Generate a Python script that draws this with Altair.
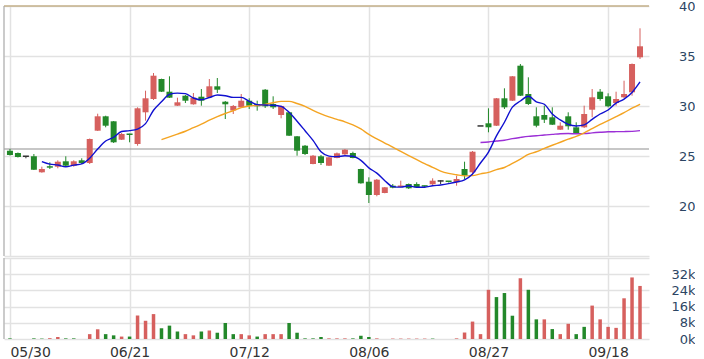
import altair as alt
import pandas as pd

# ---------------- data ----------------
opens = [25.53, 25.3, 24.9, 24.97, 23.37, 23.9, 23.93, 24.47, 24.03, 24.57,
         24.3, 27.53, 28.97, 28.47, 26.63, 27.2, 26.2, 29.37, 30.7, 32.7,
         31.43, 30.03, 31.03, 30.17, 30.93, 30.87, 31.97, 30.43, 29.55, 29.87,
         30.53, 30.2, 31.63, 30.2, 29.1, 29.37, 26.97, 26.03, 24.2, 24.97,
         24.03, 24.8, 25.17, 25.3, 23.7, 22.43, 21.1, 21.3, 22.03, 21.9,
         22.2, 22.2, 22.0, 22.17, 22.43, 22.45, 22.37, 23.7, 23.37, 27.93,
         28.27, 28.03, 30.77, 30.53, 34.03, 31.2, 28.97, 29.1, 28.87, 27.63,
         28.97, 27.87, 27.87, 29.63, 31.43, 30.97, 30.3, 30.87, 31.37, 34.87]
highs = [25.7, 25.35, 24.93, 25.2, 23.93, 24.37, 24.57, 24.97, 24.57, 24.77,
         26.75, 29.23, 29.03, 28.5, 27.3, 27.23, 29.87, 31.53, 33.3, 32.73,
         32.97, 30.83, 31.1, 31.3, 31.7, 32.7, 32.8, 30.5, 30.1, 31.2,
         30.77, 30.53, 31.7, 30.97, 30.05, 29.4, 27.0, 26.1, 25.1, 25.1,
         24.9, 25.35, 25.7, 25.43, 23.73, 22.87, 22.7, 21.9, 22.2, 22.53,
         22.25, 22.37, 22.03, 22.77, 22.57, 22.5, 23.03, 24.43, 25.5, 27.93,
         29.77, 30.8, 31.77, 33.0, 34.2, 32.87, 29.87, 30.03, 29.87, 28.37,
         29.37, 28.37, 30.03, 31.7, 31.7, 31.27, 31.43, 32.53, 34.25, 37.77]
lows = [25.05, 24.85, 24.77, 23.6, 23.33, 23.7, 23.77, 23.93, 23.93, 24.2,
        24.2, 27.5, 27.87, 26.3, 26.6, 26.37, 26.03, 28.53, 30.6, 31.4,
        30.8, 30.0, 30.3, 30.13, 30.03, 30.8, 31.3, 28.7, 29.2, 29.8,
        29.7, 29.53, 29.8, 29.7, 28.77, 27.0, 25.03, 25.1, 24.17, 24.1,
        24.0, 24.77, 25.1, 24.77, 22.23, 20.3, 20.97, 21.27, 21.77, 21.87,
        21.7, 21.8, 21.9, 22.1, 22.2, 22.35, 22.03, 22.7, 23.0, 27.93,
        27.37, 28.0, 29.7, 30.5, 31.0, 30.1, 27.87, 28.3, 28.1, 27.6,
        27.63, 27.25, 27.8, 28.87, 30.53, 29.87, 30.03, 30.8, 31.03, 34.7]
closes = [25.1, 24.9, 24.9, 23.63, 23.7, 23.83, 24.43, 24.03, 24.47, 24.3,
          26.7, 28.97, 28.03, 26.37, 27.2, 27.1, 29.77, 30.77, 33.03, 31.43,
          30.83, 30.37, 30.53, 30.83, 30.53, 31.97, 31.63, 30.17, 30.0, 30.53,
          30.03, 29.97, 29.97, 29.87, 30.0, 27.03, 25.53, 25.2, 25.03, 24.3,
          24.87, 25.27, 25.63, 24.8, 22.27, 21.1, 22.63, 21.87, 21.83, 22.0,
          21.77, 21.87, 21.93, 22.53, 22.43, 22.4, 22.7, 23.03, 25.43, 27.93,
          27.87, 30.77, 29.87, 32.97, 31.03, 30.2, 28.03, 28.63, 28.13, 28.03,
          27.97, 27.27, 29.2, 30.87, 30.7, 29.97, 30.7, 31.2, 34.2, 35.97]
volume_k = [0.3, 0, 0, 0.3, 0.2, 0.4, 1.0, 0.3, 0.3, 0,
            2.4, 4.8, 2.4, 1.8, 1.2, 1.2, 11.6, 9.0, 12.3, 5.3,
            6.6, 3.7, 2.4, 1.8, 3.7, 4.2, 3.1, 7.9, 2.4, 2.4,
            1.8, 1.2, 2.4, 2.4, 2.4, 7.9, 3.1, 0.3, 0.3, 1.0,
            0.3, 0.3, 0.3, 0.3, 1.6, 1.0, 0.3, 0, 0.2, 0.2,
            0.2, 0.2, 0.2, 0.2, 0, 0, 0.3, 3.2, 8.6, 2.4,
            24.3, 20.7, 22.7, 11.5, 30.0, 24.3, 9.7, 9.7, 4.9, 2.4,
            7.5, 2.4, 6.0, 16.5, 9.7, 6.0, 5.5, 20.1, 30.4, 26.2]
volume_dir = list("ddddduudddu" "uddudu" "uudd" "duudud" "dduudu" "uudddd" "duuudd"
                  "duuuuuuuddu" "uuuuudddudd" "uduudduuuu")
tick_index = [0, 15, 30, 45, 60, 75]
tick_labels = ["05/30", "06/21", "07/12", "08/06", "08/27", "09/18"]
reference_price = 25.7

n = len(closes)
volume_dir = (volume_dir + ["u"] * n)[:n]

df = pd.DataFrame({
    "i": list(range(n)),
    "open": opens, "high": highs, "low": lows, "close": closes,
    "vol": volume_k, "vdir": volume_dir,
})

RED = "#d6605e"
GREEN = "#23882a"
FLAT = "#333333"
GRID = "#e2e2e2"
FONT = "DejaVu Sans"

W = 645
H_PRICE = 250
H_VOL = 81

xscale = alt.Scale(domain=[-0.12, 79.5], nice=False, zero=False)

label_expr = " : ".join(
    f"datum.value == {v} ? '{t}'" for v, t in zip(tick_index, tick_labels)
) + " : ''"

x_hidden = alt.Axis(values=tick_index, labels=False, ticks=False, domain=False,
                    grid=True, gridColor=GRID, gridWidth=1.5, title=None)
x_visible = alt.Axis(values=tick_index, labelExpr=label_expr, ticks=False, domain=False,
                     grid=True, gridColor=GRID, gridWidth=1.5, title=None,
                     labelAlign={"condition": {"test": f"datum.value == {tick_index[0]}", "value": "left"},
                                 "value": "center"},
                     labelPadding=6, labelFont=FONT, labelFontSize=14,
                     labelColor="#333333")

yscale = alt.Scale(domain=[15, 40], nice=False, zero=False)
y_axis = alt.Axis(orient="right", values=[15, 20, 25, 30, 35, 40],
                  labelExpr="datum.value == 15 ? '' : datum.value",
                  ticks=False, domain=False, grid=True, gridColor=GRID, gridWidth=1.5,
                  labelAlign="right", labelPadding=46, labelFont=FONT, labelFontSize=13,
                  labelColor="#2c4563", title=None)

base = alt.Chart(df)

candle_color = alt.Color("dir:N", scale=alt.Scale(domain=["up", "down", "flat"],
                                                   range=[RED, GREEN, FLAT]), legend=None)

cbase = base.transform_calculate(
    dir="datum.close > datum.open ? 'up' : (datum.close < datum.open ? 'down' : 'flat')",
    blo="min(datum.open, datum.close)",
    bhi="max(datum.open, datum.close) - min(datum.open, datum.close) < 0.15 ? min(datum.open, datum.close) + 0.15 : max(datum.open, datum.close)",
)

wicks = cbase.mark_rule(strokeWidth=1).encode(
    x=alt.X("i:Q", scale=xscale, axis=x_hidden),
    y=alt.Y("low:Q", scale=yscale, axis=y_axis),
    y2="high:Q",
    color=candle_color,
)
bodies = cbase.mark_bar(size=6).encode(
    x=alt.X("i:Q", scale=xscale),
    y=alt.Y("blo:Q", scale=yscale),
    y2="bhi:Q",
    color=candle_color,
)

def ma_line(k, color):
    return base.transform_window(
        ma="mean(close)", cnt="count()", frame=[-(k - 1), 0], sort=[alt.SortField("i")]
    ).transform_filter(f"datum.cnt >= {k}").mark_line(
        color=color, strokeWidth=1.4, interpolate="monotone"
    ).encode(x=alt.X("i:Q", scale=xscale), y=alt.Y("ma:Q", scale=yscale))

ma5 = ma_line(5, "#1010d0")
ma20 = ma_line(20, "#f4a422")
ma60 = ma_line(60, "#9b2fd6")

ref = alt.Chart(pd.DataFrame({"p": [reference_price]})).mark_rule(
    color="#8f8f8f", strokeWidth=1.2
).encode(y=alt.Y("p:Q", scale=yscale))

top_line = alt.Chart(pd.DataFrame({"a": [0]})).mark_rule(color="#c4b08a", strokeWidth=1.5).encode(
    x=alt.value(0), x2=alt.value(W), y=alt.value(0))
left_line = alt.Chart(pd.DataFrame({"a": [0]})).mark_rule(color="#a8a8a8", strokeWidth=1.2).encode(
    x=alt.value(0), y=alt.value(0), y2=alt.value(H_PRICE))

price = alt.layer(ref, wicks, bodies, ma60, ma20, ma5, top_line, left_line).properties(
    width=W, height=H_PRICE)

vol_axis = alt.Axis(orient="right", values=[0, 8, 16, 24, 32, 40],
                    labelExpr="datum.value >= 40 ? '' : datum.value + 'k'",
                    ticks=False, domain=False, grid=True, gridColor=GRID, gridWidth=1.5,
                    labelAlign="right", labelPadding=46, labelFont=FONT, labelFontSize=13,
                    labelColor="#2c4563", title=None)

vol_bars = base.mark_bar(size=3.5).encode(
    x=alt.X("i:Q", scale=xscale, axis=x_visible),
    y=alt.Y("vol:Q", scale=alt.Scale(domain=[0, 40], nice=False), axis=vol_axis),
    color=alt.Color("vdir:N", scale=alt.Scale(domain=["u", "d"], range=[RED, GREEN]), legend=None),
)
vol_left = alt.Chart(pd.DataFrame({"a": [0]})).mark_rule(color="#a8a8a8", strokeWidth=1.2).encode(
    x=alt.value(0), y=alt.value(0), y2=alt.value(H_VOL))

volume = alt.layer(vol_bars, vol_left).properties(width=W, height=H_VOL)

chart = alt.vconcat(price, volume, spacing=0).properties(
    padding={"left": 3, "top": 0, "right": 0, "bottom": 0}
).configure_view(stroke=None)

chart.save("out.html", embed_options={"renderer": "svg", "actions": False})
